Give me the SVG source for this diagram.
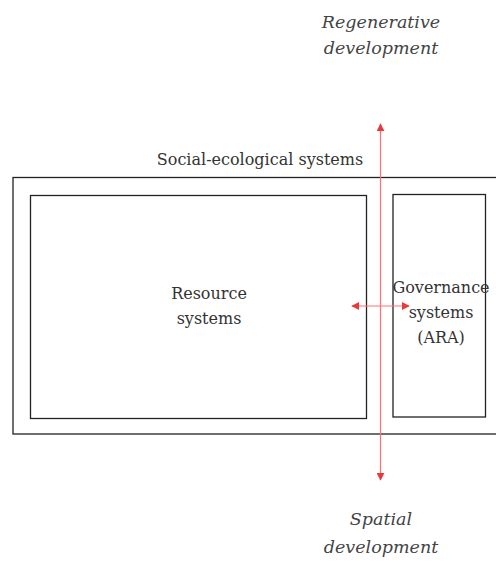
<svg xmlns="http://www.w3.org/2000/svg" width="496" height="562" viewBox="0 0 496 562">
<style>
.t{font-family:"DejaVu Serif","Liberation Serif",serif;font-size:16px;fill:#333;text-anchor:middle;font-weight:300}
.i{font-family:"DejaVu Serif","Liberation Serif",serif;font-size:17.5px;fill:#444;text-anchor:middle;font-style:italic}
.box{fill:none;stroke:#222;stroke-width:1.3}
.red{stroke:#ff7070;stroke-width:1.2;fill:none}
</style>
<defs>
<marker id="ah" viewBox="0 0 10 10" refX="9" refY="5" markerWidth="8" markerHeight="8" markerUnits="userSpaceOnUse" orient="auto-start-reverse"><path d="M0,0 L10,5 L0,10 z" fill="#e83a3a"/></marker>
</defs>
<g id="regenerative">
<text class="i" x="381" y="28">Regenerative</text>
<text class="i" x="381" y="54">development</text>
</g>
<g id="ses">
<rect class="box" x="13" y="177.5" width="500" height="256.5"/>
<text class="t" x="260" y="165">Social-ecological systems</text>
</g>
<g id="resource">
<rect class="box" x="30.5" y="195.5" width="336" height="223"/>
<text class="t" x="209" y="299">Resource</text>
<text class="t" x="209" y="324">systems</text>
</g>
<g id="governance">
<rect class="box" x="393" y="194.5" width="92.5" height="222.5"/>
<text class="t" x="441" y="293">Governance</text>
<text class="t" x="441" y="318">systems</text>
<text class="t" x="441" y="343">(ARA)</text>
</g>
<g id="spatial">
<text class="i" x="381" y="525">Spatial</text>
<text class="i" x="381" y="553">development</text>
</g>
<g id="connectors">
<line class="red" x1="380.5" y1="124" x2="380.5" y2="480" marker-start="url(#ah)" marker-end="url(#ah)"/>
<line class="red" x1="352" y1="306" x2="409" y2="306" marker-start="url(#ah)" marker-end="url(#ah)"/>
</g>
</svg>
